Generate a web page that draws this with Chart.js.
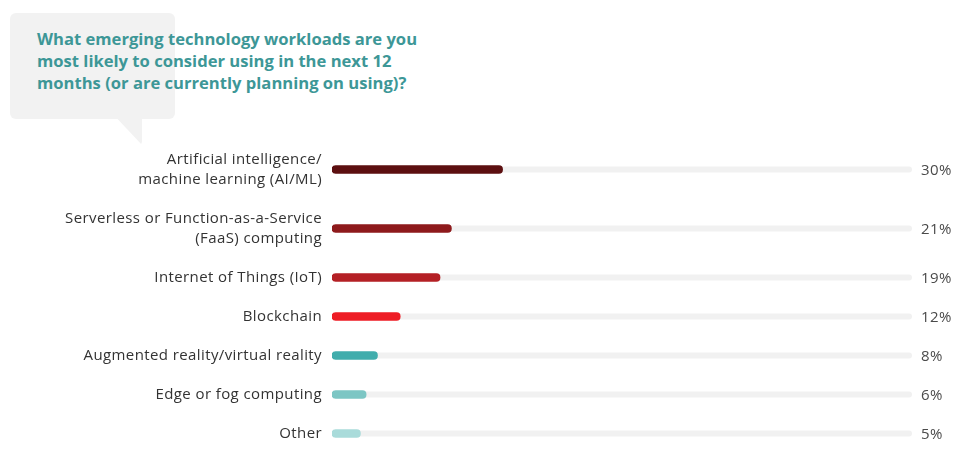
<!DOCTYPE html>
<html>
<head>
<meta charset="utf-8">
<script src="https://cdn.jsdelivr.net/npm/chart.js@4.4.1/dist/chart.umd.min.js"></script>
<style>
  html, body { margin: 0; padding: 0; background: #fff; }
  #wrap { position: relative; width: 974px; height: 469px; }
  #bubble {
    position: absolute; left: 10px; top: 13px; width: 165px; height: 106px;
    background: #f2f2f2; border-radius: 6px;
  }
  #tail {
    position: absolute; left: 111px; top: 112px; width: 31px; height: 33px;
    background: #f2f2f2; clip-path: polygon(0 0, 100% 0, 100% 100%);
    border-bottom-right-radius: 4px;
  }
  #title {
    position: absolute; left: 37px; top: 28px; width: 420px;
    font-family: "Open Sans", sans-serif; font-weight: 700; font-size: 16.6px;
    line-height: 22px; color: #3d9797;
  }
  canvas { position: absolute; left: 0; top: 0; }
</style>
</head>
<body>
<div id="wrap">
  <div id="bubble"></div>
  <div id="tail"></div>
  <div id="title">What emerging technology workloads are you most likely to consider using in the next 12 months (or are currently planning on using)?</div>
  <canvas id="myChart" width="974" height="469"></canvas>
</div>
<script>
const labels = [
  ["Artificial intelligence/", "machine learning (AI/ML)"],
  ["Serverless or Function-as-a-Service", "(FaaS) computing"],
  "Internet of Things (IoT)",
  "Blockchain",
  "Augmented reality/virtual reality",
  "Edge or fog computing",
  "Other",
];
const values = [30, 21, 19, 12, 8, 6, 5];
const colors = ["#5c0f10", "#8e1a1c", "#b42025", "#ee1d25", "#40adac", "#7cc6c4", "#a9dbda"];

// row layout: a two-line label takes a taller row than a one-line one
const rowHeights = labels.map(l => Array.isArray(l) ? 59 : 39);
const centers = [];
let acc = 0;
rowHeights.forEach(h => { centers.push(acc + h / 2); acc += h; });
const totalRows = acc;

const trackPlugin = {
  id: "track",
  beforeDraw(c) {
    c.ctx.letterSpacing = "0.4px";
  },
  beforeDatasetsDraw(c) {
    const ctx = c.ctx, a = c.chartArea, y = c.scales.y;
    ctx.save();
    ctx.strokeStyle = "#f1f1f1";
    ctx.lineWidth = 6;
    ctx.lineCap = "round";
    centers.forEach(v => {
      const py = y.getPixelForValue(v);
      ctx.beginPath();
      ctx.moveTo(a.left + 3, py);
      ctx.lineTo(a.right - 3, py);
      ctx.stroke();
    });
    ctx.restore();
  },
  afterDatasetsDraw(c) {
    const ctx = c.ctx, a = c.chartArea, y = c.scales.y;
    ctx.save();
    ctx.font = "15px 'Open Sans', sans-serif";
    ctx.fillStyle = "#4a4a4a";
    ctx.textBaseline = "middle";
    values.forEach((v, i) => {
      ctx.fillText(v + "%", a.right + 9, y.getPixelForValue(centers[i]) + 1);
    });
    ctx.restore();
  }
};

let chart = document.getElementById("myChart").getContext("2d");

new Chart(chart, {
  type: "bar",
  data: {
    datasets: [{
      data: values.map((v, i) => ({ x: v, y: centers[i] })),
      backgroundColor: colors,
      barThickness: 8,
      borderRadius: 4,
      borderSkipped: false,
    }],
  },
  options: {
    indexAxis: "y",
    responsive: false,
    animation: false,
    layout: { padding: { top: 140, bottom: 16, left: 0, right: 62 } },
    plugins: { legend: { display: false }, tooltip: { enabled: false } },
    scales: {
      x: { min: 0, max: 102, display: false },
      y: {
        type: "linear",
        reverse: true,
        offset: false,
        min: 0,
        max: totalRows,
        afterBuildTicks(s) { s.ticks = centers.map(v => ({ value: v })); },
        afterFit(s) { s.width = 332; s.paddingTop = 0; s.paddingBottom = 0; },
        grid: { display: false, drawTicks: false },
        border: { display: false },
        ticks: {
          padding: 10,
          color: "#333",
          font: { family: "'Open Sans', sans-serif", size: 15, lineHeight: 1.35 },
          callback: (v) => labels[centers.indexOf(v)],
        },
      },
    },
  },
  plugins: [trackPlugin],
});
</script>
</body>
</html>
